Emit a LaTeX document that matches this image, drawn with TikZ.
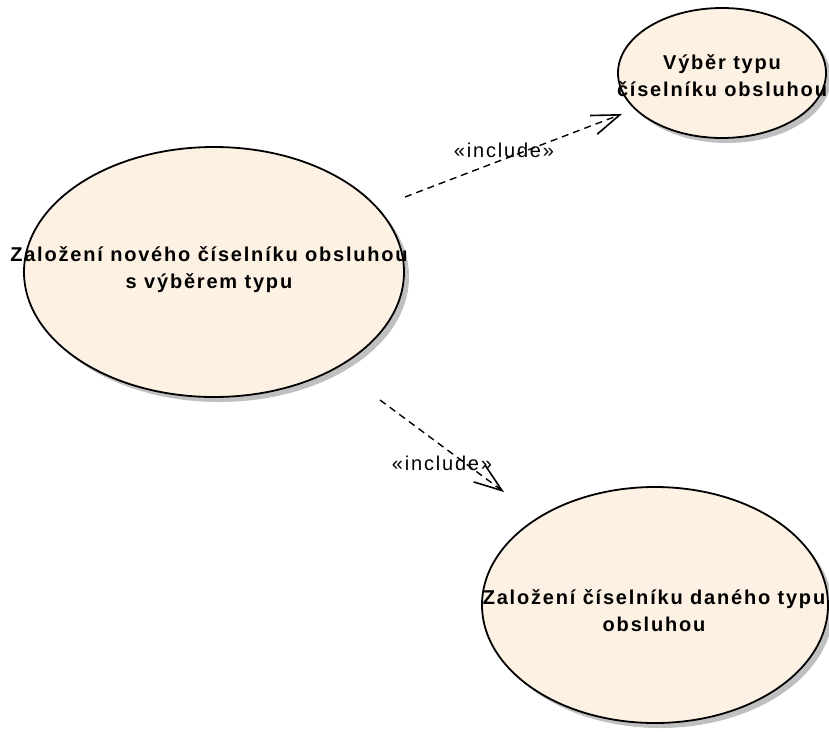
\documentclass[tikz,border=0pt]{standalone}
\usepackage{fontspec}
\setmainfont{Liberation Sans}
\usetikzlibrary{arrows.meta,shapes.geometric,shadows}
\definecolor{ucfill}{HTML}{FCF1E3}
\definecolor{ucshadow}{HTML}{C0C0C0}
\tikzset{
  usecase/.style={ellipse, draw=black, line width=1.8pt, fill=ucfill, inner sep=0pt,
    drop shadow={shadow xshift=5pt, shadow yshift=-5pt, fill=ucshadow, opacity=1}},
  uctext/.style={align=center, inner sep=0pt,
    font=\fontsize{20}{27}\selectfont\bfseries\addfontfeatures{LetterSpace=9}},
  stereo/.style={inner sep=0pt,
    font=\fontsize{20}{22}\selectfont\addfontfeatures{LetterSpace=9}},
  includes/.style={line width=1.4pt, dash pattern=on 7pt off 5pt,
    -{Straight Barb[length=28pt, width=20pt, line width=1.6pt]}},
}
\begin{document}
\begin{tikzpicture}[x=1pt, y=-1pt]
  \useasboundingbox (0,0) rectangle (829,731);

  % use cases
  \node[usecase, minimum width=380pt, minimum height=250pt] (uNew) at (214,272) {};
  \node[usecase, minimum width=208pt, minimum height=130pt] (uType) at (722,73) {};
  \node[usecase, minimum width=346pt, minimum height=236pt] (uGiven) at (655,605) {};

  \node[uctext] (tNew) at (209,270) {Založení nového číselníku obsluhou\\s výběrem typu};
  \node[uctext] (tType) at (722,76) {Výběr typu\\číselníku obsluhou};
  \node[uctext] (tGiven) at (654,611) {Založení číselníku daného typu\\obsluhou};

  % include relations
  \coordinate (inc1s) at (405,197);
  \coordinate (inc1e) at (622,114);
  \coordinate (inc2s) at (380,400);
  \coordinate (inc2e) at (504,492);
  \draw[includes] (inc1s) -- (inc1e);
  \draw[includes] (inc2s) -- (inc2e);

  \node[stereo] (lInc1) at (504,150) {«include»};
  \node[stereo] (lInc2) at (442,463) {«include»};
\end{tikzpicture}
\end{document}
